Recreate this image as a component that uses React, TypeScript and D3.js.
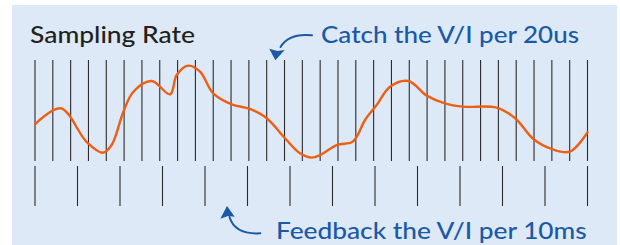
import React from "react";
import * as d3 from "d3";

// sample positions (in 20us sample index units) and signal level (0..100)
const curveT = [0, 1.44, 2.9, 3.8, 4.3, 4.96, 5.52, 6.55, 7.58, 7.95, 8.6, 9.26, 10.0, 11.04, 12.06, 13.0, 14.03, 14.87, 15.53, 16.0, 16.93, 17.77, 18.05, 18.52, 19.17, 19.92, 20.95, 21.98, 23.0, 24.03, 25.9, 26.94, 27.96, 28.99, 30.0, 31.0];
const curveV = [36.3, 52.2, 18.8, 8.2, 15.8, 48.8, 68.6, 79.2, 66.0, 85.1, 94.4, 88.4, 67.0, 56.1, 51.5, 42.3, 22.5, 7.6, 3.3, 5.9, 15.8, 18.5, 24.1, 40.6, 55.4, 73.6, 79.2, 64.7, 57.1, 53.8, 52.8, 42.3, 21.8, 11.9, 9.2, 28.4];

const fastSamples = d3.range(0, 32); // 32 sampling ticks (20us)
const slowSamples = d3.range(0, 14); // 14 feedback ticks (10ms)

const titleText = "Sampling Rate";
const topLabel = "Catch the V/I per 20us";
const bottomLabel = "Feedback the V/I per 10ms";

export default function App() {
  const W = 620, H = 245;
  const x = d3.scaleLinear().domain([0, 31]).range([35, 587.5]);
  const xSlow = d3.scaleLinear().domain([0, 13]).range([35, 587.5]);
  const y = d3.scaleLinear().domain([0, 100]).range([161, 60]);
  const line = d3
    .line<number>()
    .x((_, i) => x(curveT[i]))
    .y((d) => y(d))
    .curve(d3.curveCatmullRom.alpha(0.5));

  const blue = "#1a59a6";
  const font = "Lato, 'Noto Sans', sans-serif";

  return (
    <svg width={W} height={H} style={{ position: "absolute", left: 0, top: 0 }}>
      <rect x={0} y={0} width={W} height={H} fill="#ffffff" />
      <rect x={12} y={5} width={605} height={240} fill="#dde9f7" />
      {fastSamples.map((s) => (
        <line key={"f" + s} x1={x(s)} x2={x(s)} y1={60} y2={161} stroke="#2b2b2b" strokeWidth={1.1} />
      ))}
      {slowSamples.map((s) => (
        <line key={"s" + s} x1={xSlow(s)} x2={xSlow(s)} y1={166} y2={206} stroke="#2b2b2b" strokeWidth={1.1} />
      ))}
      <path d={line(curveV) || ""} fill="none" stroke="#ec5f14" strokeWidth={2.4} strokeLinecap="round" />
      <text x={30} y={43.3} fontFamily={font} fontSize={23} fontWeight={500} fill="#231f20" textLength={165} lengthAdjust="spacingAndGlyphs">
        {titleText}
      </text>
      <text x={321} y={43.3} fontFamily={font} fontSize={23} fontWeight={500} fill={blue} textLength={258} lengthAdjust="spacingAndGlyphs">
        {topLabel}
      </text>
      <text x={276} y={239.3} fontFamily={font} fontSize={23} fontWeight={500} fill={blue} textLength={310.7} lengthAdjust="spacingAndGlyphs">
        {bottomLabel}
      </text>
      {/* top arrow */}
      <path d="M312,35.3 C300,34 287,36 280.5,47" fill="none" stroke={blue} strokeWidth={2} strokeLinecap="round" />
      <path d="M275.3,60.3 L269.3,48.7 L277.5,51 L284.7,50 Z" fill={blue} />
      {/* bottom arrow */}
      <path d="M260.3,233.3 C248,234 234,232 229.5,217" fill="none" stroke={blue} strokeWidth={2} strokeLinecap="round" />
      <path d="M227,206 L220.3,218.7 L228,216 L234.7,216.7 Z" fill={blue} />
    </svg>
  );
}
